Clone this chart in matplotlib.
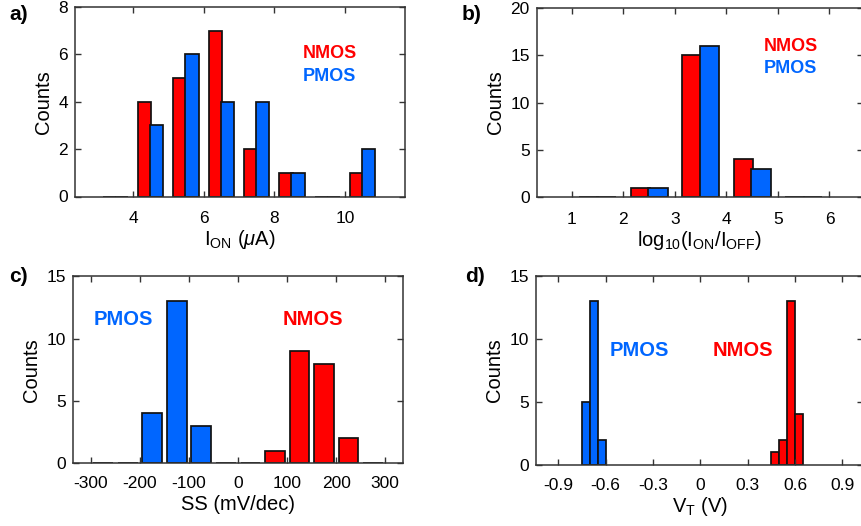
"""
Four-panel device statistics: I_ON, on/off ratio, SS and V_T histograms
for NMOS (red) and PMOS (blue). Saves out.png.
"""
import numpy as np
import matplotlib.pyplot as plt

plt.rcParams['font.family'] = ['Liberation Sans', 'DejaVu Sans']
plt.rcParams['axes.unicode_minus'] = False
plt.rcParams['mathtext.fontset'] = 'custom'
plt.rcParams['mathtext.rm'] = 'Liberation Sans'
plt.rcParams['mathtext.it'] = 'Liberation Sans:italic'

RED = "#FF0000"
BLUE = "#0066FF"
EDGE = "#111111"
FRAME = "#333333"

# ---- a) I_ON (uA), grouped bars ----
ion_centers = [3.5, 4.5, 5.5, 6.5, 7.5, 8.5, 9.5, 10.5]
ion_nmos = [0, 4, 5, 7, 2, 1, 0, 1]
ion_pmos = [0, 3, 6, 4, 4, 1, 0, 2]

# ---- b) log10(I_ON/I_OFF), grouped bars ----
ratio_centers = [1.5, 2.5, 3.5, 4.5, 5.5]
ratio_nmos = [0, 1, 15, 4, 0]
ratio_pmos = [0, 1, 16, 3, 0]

# ---- c) SS (mV/dec) ----
ss_pmos_centers = [-275, -225, -175, -125, -75, -25]
ss_pmos = [0, 0, 4, 13, 3, 0]
ss_nmos_centers = [25, 75, 125, 175, 225, 275]
ss_nmos = [0, 1, 9, 8, 2, 0]

# ---- d) V_T (V), bin left edges ----
vt_pmos_edges = [-0.75, -0.70, -0.65]
vt_pmos = [5, 13, 2]
vt_nmos_edges = [0.45, 0.50, 0.55, 0.60]
vt_nmos = [1, 2, 13, 4]

W, H = 861, 526
fig = plt.figure(figsize=(W / 100, H / 100), dpi=100)

def box(l, r, t, b):
    return [l / W, 1 - b / H, (r - l) / W, (b - t) / H]

def style(ax, xlabel, xpad=1.5, tpad=10.5):
    for s in ax.spines.values():
        s.set_color(FRAME); s.set_linewidth(1.1)
    ax.tick_params(direction='in', top=True, right=True, length=4, width=1,
                   color=FRAME, labelsize=12.5)
    ax.tick_params(axis='x', pad=tpad)
    ax.tick_params(axis='y', pad=5)
    ax.set_ylabel("Counts", fontsize=14.5, labelpad=4)
    ax.set_xlabel(xlabel, fontsize=14.5, labelpad=xpad)

bkw = dict(edgecolor=EDGE, linewidth=1.25)
off, bw = 0.17, 0.38

# a)
axa = fig.add_axes(box(75, 405, 7, 196.5))
xc = np.array(ion_centers)
axa.bar(xc - off, ion_nmos, width=bw, color=RED, **bkw)
axa.bar(xc + off, ion_pmos, width=bw, color=BLUE, **bkw)
axa.set_xlim(2.36, 11.7); axa.set_ylim(0, 8)
axa.set_xticks([4, 6, 8, 10]); axa.set_yticks([0, 2, 4, 6, 8])
style(axa, r"I$_{\mathregular{ON}}$ ($\mathit{\mu}$A)")
axa.text(8.81, 6.04, "NMOS", color=RED, fontsize=13, fontweight='bold', va='center')
axa.text(8.81, 5.05, "PMOS", color=BLUE, fontsize=13, fontweight='bold', va='center')

# b)
axb = fig.add_axes(box(536.7, 863, 8, 197.2))
xc = np.array(ratio_centers)
axb.bar(xc - off, ratio_nmos, width=bw, color=RED, **bkw)
axb.bar(xc + off, ratio_pmos, width=bw, color=BLUE, **bkw)
axb.set_xlim(0.32, 6.65); axb.set_ylim(0, 20)
axb.set_xticks([1, 2, 3, 4, 5, 6]); axb.set_yticks([0, 5, 10, 15, 20])
style(axb, r"log$_{\mathregular{10}}$(I$_{\mathregular{ON}}$/I$_{\mathregular{OFF}}$)")
axb.text(4.72, 15.9, "NMOS", color=RED, fontsize=13, fontweight='bold', va='center')
axb.text(4.72, 13.6, "PMOS", color=BLUE, fontsize=13, fontweight='bold', va='center')

# c)
axc = fig.add_axes(box(73.3, 403.3, 276.3, 463.3))
axc.bar(ss_pmos_centers, ss_pmos, width=40, color=BLUE, **bkw)
axc.bar(ss_nmos_centers, ss_nmos, width=40, color=RED, **bkw)
axc.set_xlim(-336, 337); axc.set_ylim(0, 15)
axc.set_xticks([-300, -200, -100, 0, 100, 200, 300]); axc.set_yticks([0, 5, 10, 15])
style(axc, "SS (mV/dec)", xpad=3, tpad=9)
axc.text(-294, 11.5, "PMOS", color=BLUE, fontsize=14.5, fontweight='bold', va='center')
axc.text(91, 11.5, "NMOS", color=RED, fontsize=14.5, fontweight='bold', va='center')

# d)
axd = fig.add_axes(box(536, 863, 275.7, 464.7))
axd.bar(vt_pmos_edges, vt_pmos, width=0.05, align='edge', color=BLUE, **bkw)
axd.bar(vt_nmos_edges, vt_nmos, width=0.05, align='edge', color=RED, **bkw)
axd.set_xlim(-1.041, 1.03); axd.set_ylim(0, 15)
axd.set_xticks([-0.9, -0.6, -0.3, 0, 0.3, 0.6, 0.9])
axd.set_xticklabels(["-0.9", "-0.6", "-0.3", "0", "0.3", "0.6", "0.9"])
axd.set_yticks([0, 5, 10, 15])
style(axd, r"V$_{\mathregular{T}}$ (V)", tpad=9.5)
axd.text(-0.573, 9.1, "PMOS", color=BLUE, fontsize=14.5, fontweight='bold', va='center')
axd.text(0.079, 9.1, "NMOS", color=RED, fontsize=14.5, fontweight='bold', va='center')

# panel letters
for lab, x, y in [("a)", 9, 15), ("b)", 462, 15), ("c)", 9, 276), ("d)", 465, 276)]:
    fig.text(x / W, 1 - y / H, lab, fontsize=15, fontweight='bold', va='center', ha='left')

fig.savefig("out.png", dpi=100)
